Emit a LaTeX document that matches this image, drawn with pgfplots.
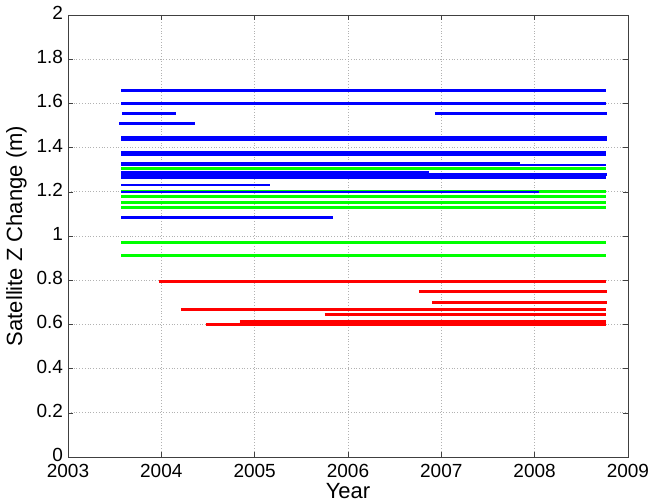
\documentclass[border=0pt]{standalone}
\usepackage{fontspec}
\setmainfont{Liberation Sans}
\usepackage{pgfplots}
\pgfplotsset{compat=1.18}
\definecolor{mblue}{RGB}{0,0,255}
\definecolor{mgreen}{RGB}{0,255,0}
\definecolor{mred}{RGB}{255,0,0}
\begin{document}
\begin{tikzpicture}
\begin{axis}[
  scale only axis,
  width=280pt, height=221pt,
  xmin=2003, xmax=2009, ymin=0, ymax=2,
  xtick={2003,2004,...,2009},
  ytick={0,0.2,...,2.01},
  /pgf/number format/1000 sep={},
  /pgf/number format/assume math mode=true,
  tick label style={font=\fontsize{9.5}{11}\selectfont},
  label style={font=\fontsize{11}{13}\selectfont},
  xlabel={Year}, ylabel={Satellite Z Change (m)},
  xlabel style={yshift=4pt},
  ylabel style={yshift=-2pt},
  yticklabel style={xshift=1pt, yshift=1pt},
  xticklabel style={yshift=0pt},
  grid=major, grid style={densely dotted, gray!60},
  axis line style={black!75},
  major tick length=2.5pt,
  tick style={black!75},
  every axis plot/.append style={line width=1.5pt},
  bl/.style={mblue}, gr/.style={mgreen}, rd/.style={mred},
]
% blue
\addplot[bl] coordinates {(2003.57,1.657)(2008.76,1.657)};
\addplot[bl] coordinates {(2003.57,1.600)(2008.76,1.600)};
\addplot[bl] coordinates {(2003.58,1.555)(2004.16,1.555)};
\addplot[bl] coordinates {(2006.93,1.555)(2008.77,1.555)};
\addplot[bl] coordinates {(2003.55,1.511)(2004.36,1.511)};
\addplot[bl] coordinates {(2003.57,1.447)(2008.77,1.447)};
\addplot[bl] coordinates {(2003.57,1.436)(2008.77,1.436)};
\addplot[bl] coordinates {(2003.57,1.380)(2008.76,1.380)};
\addplot[bl] coordinates {(2003.57,1.367)(2008.76,1.367)};
\addplot[bl] coordinates {(2003.57,1.328)(2007.84,1.328)};
\addplot[bl, line width=1pt] coordinates {(2003.57,1.322)(2008.76,1.322)};
\addplot[bl] coordinates {(2003.57,1.289)(2006.87,1.289)};
\addplot[bl] coordinates {(2003.57,1.278)(2008.77,1.278)};
\addplot[bl] coordinates {(2003.57,1.266)(2008.76,1.266)};
\addplot[bl, line width=1pt] coordinates {(2003.57,1.230)(2005.16,1.230)};
% green
\addplot[gr] coordinates {(2003.57,1.305)(2008.76,1.305)};
\addplot[gr] coordinates {(2003.57,1.203)(2008.76,1.203)};
\addplot[bl, line width=1pt] coordinates {(2003.57,1.197)(2008.05,1.197)};
\addplot[gr] coordinates {(2003.57,1.177)(2008.76,1.177)};
\addplot[gr] coordinates {(2003.57,1.153)(2008.76,1.153)};
\addplot[gr] coordinates {(2003.57,1.130)(2008.76,1.130)};
\addplot[bl] coordinates {(2003.57,1.083)(2005.84,1.083)};
\addplot[gr] coordinates {(2003.57,0.971)(2008.76,0.971)};
\addplot[gr] coordinates {(2003.57,0.911)(2008.76,0.911)};
% red
\addplot[rd] coordinates {(2003.97,0.794)(2008.76,0.794)};
\addplot[rd] coordinates {(2006.76,0.748)(2008.77,0.748)};
\addplot[rd] coordinates {(2006.90,0.697)(2008.77,0.697)};
\addplot[rd] coordinates {(2004.21,0.666)(2008.76,0.666)};
\addplot[rd] coordinates {(2005.75,0.643)(2008.76,0.643)};
\addplot[rd] coordinates {(2004.48,0.601)(2008.76,0.601)};
\addplot[rd] coordinates {(2004.84,0.605)(2008.76,0.605)};
\addplot[rd] coordinates {(2004.84,0.613)(2008.76,0.613)};
\end{axis}
\pgfresetboundingbox
\path (-34pt,-23pt) rectangle (291.5pt,228.5pt);
\end{tikzpicture}
\end{document}
